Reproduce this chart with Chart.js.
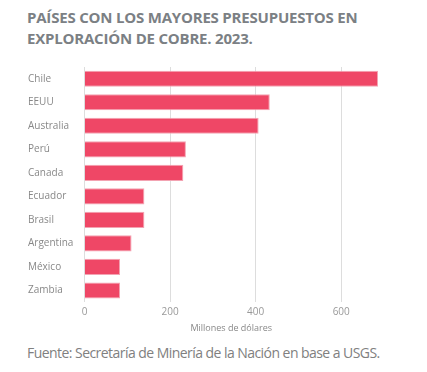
<!DOCTYPE html>
<html>
<head>
<meta charset="utf-8">
<script src="https://cdn.jsdelivr.net/npm/chart.js@4/dist/chart.umd.min.js"></script>
<style>
  body { margin: 0; background: #fff; width: 427px; height: 372px; overflow: hidden; font-family: "Open Sans", sans-serif; }
  #titulo { position: absolute; left: 27px; top: 7px; font-size: 15px; font-weight: 700; color: #7b8084; line-height: 21px; letter-spacing: -0.2px; }
  #grafico { position: absolute; left: 0; top: 56px; width: 427px; height: 278px; }
  #fuente { position: absolute; left: 27px; top: 343px; font-size: 14px; color: #808080; letter-spacing: -0.55px; font-weight: 400; }
</style>
</head>
<body>
<div id="titulo">PAÍSES CON LOS MAYORES PRESUPUESTOS EN<br>EXPLORACIÓN DE COBRE. 2023.</div>
<div id="grafico"><canvas id="barras"></canvas></div>
<div id="fuente">Fuente: Secretaría de Minería de la Nación en base a USGS.</div>
<script>
// datos (millones de dólares)
const paises = ['Chile', 'EEUU', 'Australia', 'Perú', 'Canada', 'Ecuador', 'Brasil', 'Argentina', 'México', 'Zambia'];
const presupuestos = [686, 433, 407, 237, 231, 140, 140, 110, 83, 83];
const ticksX = [0, 200, 400, 600];

const ctx = document.getElementById('barras');
new Chart(ctx, {
    type: 'bar',
    data: {
        labels: paises,
        datasets: [{
            label: 'Presupuesto',
            data: presupuestos,
            backgroundColor: '#ef4766',
            borderColor: '#f3a3b2',
            borderWidth: 1,
            barPercentage: 0.685,
            categoryPercentage: 1
        }]
    },
    options: {
        indexAxis: 'y',
        responsive: true,
        maintainAspectRatio: false,
        animation: false,
        layout: { padding: { left: 28, right: 49, top: 11, bottom: 0 } },
        plugins: { legend: { display: false }, tooltip: { enabled: false } },
        scales: {
            x: {
                min: 0,
                max: 686,
                afterBuildTicks: scale => { scale.ticks = ticksX.map(v => ({ value: v })); },
                grid: { color: '#dddddd', drawTicks: false },
                border: { display: false },
                ticks: { color: '#999', font: { family: 'Open Sans', size: 10 }, padding: 4 },
                title: { display: true, text: 'Millones de dólares', color: '#888', font: { family: 'Open Sans', size: 9 }, padding: { top: 1, bottom: 0 } }
            },
            y: {
                grid: { display: false },
                border: { display: false },
                afterFit: scale => { scale.width = 56.5; },
                ticks: { color: '#888', crossAlign: 'far', font: { family: 'Open Sans', size: 10 } }
            }
        }
    }
});
</script>
</body>
</html>
